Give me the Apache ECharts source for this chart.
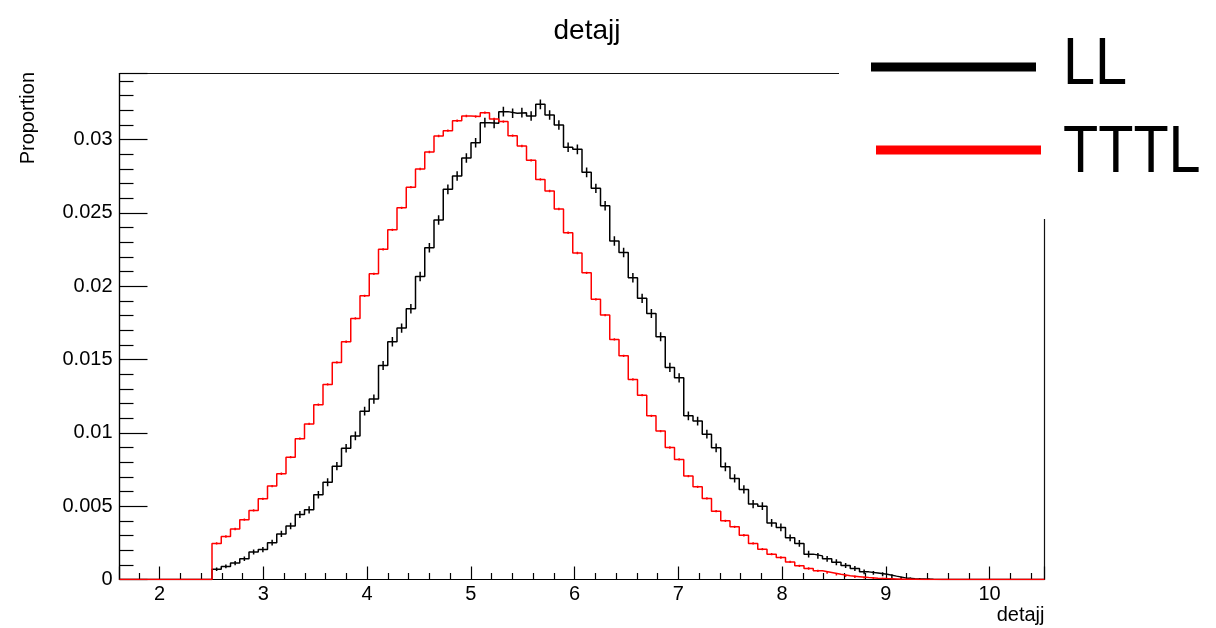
<!DOCTYPE html>
<html><head><meta charset="utf-8">
<script src="https://cdn.jsdelivr.net/npm/echarts@6/dist/echarts.min.js"></script>
<style>html,body{margin:0;padding:0;background:#fff}#c{width:1216px;height:628px}</style>
</head><body><div id="c"></div>
<script>
// ---- data ----
const TITLE = 'detajj';
const X_NAME = 'detajj';
const Y_NAME = 'Proportion';
const SERIES_NAMES = ['LL', 'TTTL'];
const X_MIN = 1.613, X_MAX = 10.53, N_BINS = 100;
const Y_MIN = 0, Y_MAX = 0.0345, Y_STEP = 0.005;

const LL = [
  0,0,0,0,0,0,0,0,0,0,
  0.00070,0.00089,0.00112,0.00141,0.00187,0.00204,0.00251,0.00311,0.00365,0.00443,
  0.00475,0.00578,0.00663,0.00773,0.00895,0.00979,0.01148,0.01230,0.01459,0.01621,
  0.01714,0.01846,0.02066,0.02262,0.02451,0.02660,0.02751,0.02874,0.02978,0.03115,
  0.03110,0.03190,0.03179,0.03183,0.03160,0.03240,0.03167,0.03099,0.02947,0.02933,
  0.02776,0.02667,0.02548,0.02308,0.02230,0.02057,0.01917,0.01814,0.01655,0.01446,
  0.01375,0.01116,0.01080,0.00991,0.00898,0.00768,0.00689,0.00614,0.00514,0.00500,
  0.00386,0.00355,0.00284,0.00246,0.00173,0.00161,0.00141,0.00118,0.00095,0.00075,
  0.00052,0.00045,0.00036,0.00023,0.00011,0.00005,0.00003,0.00001,0,0,
  0,0,0,0,0,0,0,0,0,0
];
const TTTL = [
  0,0,0,0,0,0,0,0,0,0,
  0.00246,0.00293,0.00344,0.00408,0.00471,0.00550,0.00637,0.00721,0.00834,0.00960,
  0.01061,0.01192,0.01330,0.01480,0.01621,0.01780,0.01934,0.02084,0.02251,0.02384,
  0.02534,0.02675,0.02799,0.02915,0.03024,0.03060,0.03128,0.03160,0.03156,0.03183,
  0.03140,0.03122,0.03026,0.02956,0.02858,0.02728,0.02649,0.02526,0.02364,0.02226,
  0.02091,0.01910,0.01803,0.01637,0.01525,0.01364,0.01257,0.01116,0.01012,0.00900,
  0.00819,0.00705,0.00632,0.00553,0.00466,0.00400,0.00359,0.00302,0.00246,0.00207,
  0.00173,0.00150,0.00120,0.00093,0.00075,0.00059,0.00048,0.00036,0.00025,0.00019,
  0.00013,0.00009,0.00006,0.00004,0.00002,0.00001,0,0,0,0,
  0,0,0,0,0,0,0,0,0,0
];
// statistical error bars, in units of 1e-4
const LL_ERR_E4 = [
  0,0,0,0,0,0,0,0,0,0,
  1.2,1.3,1.4,1.5,1.7,1.8,2.0,2.1,2.2,2.4,
  2.5,2.6,2.7,2.8,2.9,3.0,3.0,3.1,3.1,3.2,
  3.2,3.3,3.3,3.3,3.3,3.3,3.3,3.3,3.3,3.3,
  3.3,3.3,3.3,3.3,3.3,3.3,3.3,3.3,3.3,3.3,
  3.3,3.2,3.2,3.2,3.2,3.2,3.1,3.1,3.1,3.1,
  3.1,3.0,3.0,3.0,3.0,3.0,2.8,2.8,2.8,2.6,
  2.6,2.6,2.3,2.3,2.3,2.0,2.0,2.0,1.7,1.7,
  1.7,1.3,1.3,1.3,0.8,0.8,0.8,0.5,0,0,
  0,0,0,0,0,0,0,0,0,0
];
const TTTL_ERR_E4 = [
  0,0,0,0,0,0,0,0,0,0,
  0.8,0.8,0.8,0.8,0.8,0.8,0.8,0.8,0.8,0.8,
  0.8,0.8,0.8,0.8,0.8,0.8,0.8,0.8,0.8,0.8,
  0.8,0.8,0.8,0.8,0.8,0.8,0.8,0.8,0.8,0.8,
  0.8,0.8,0.8,0.8,0.8,0.8,0.8,0.8,0.8,0.8,
  0.8,0.8,0.8,0.8,0.8,0.8,0.8,0.8,0.8,0.8,
  0.8,0.8,0.8,0.8,0.8,0.8,0.8,0.8,0.8,0.8,
  0.8,0.8,0.8,0.8,0.8,0.8,0.8,0.8,0.8,0.8,
  0.6,0.6,0.6,0.6,0.6,0.6,0,0,0,0,
  0,0,0,0,0,0,0,0,0,0
];
const COLORS = ['#000000', '#ff0000'];

// ---- build ----
const BW = (X_MAX - X_MIN) / N_BINS;
function stepData(vals) {
  const d = [];
  for (let i = 0; i < vals.length; i++) d.push([X_MIN + i * BW, vals[i]]);
  d.push([X_MIN + vals.length * BW, vals[vals.length - 1]]);
  return d;
}
function errData(vals, errs) {
  const d = [];
  for (let i = 0; i < vals.length; i++) if (vals[i] > 0) d.push([X_MIN + (i + 0.5) * BW, vals[i], errs[i] * 1e-4]);
  return d;
}
function errSeries(vals, errs, color, z) {
  return {
    type: 'custom', z: z, silent: true, clip: true,
    encode: { x: 0, y: 1 },
    data: errData(vals, errs),
    renderItem: function (params, api) {
      const x = api.value(0), v = api.value(1), e = api.value(2);
      const p1 = api.coord([x, v - e]), p2 = api.coord([x, v + e]);
      return { type: 'line', shape: { x1: p1[0], y1: p1[1], x2: p2[0], y2: p2[1] },
               style: { stroke: color, lineWidth: 1.5 } };
    }
  };
}
const FONT = "'Liberation Sans', Arial, Helvetica, sans-serif";
const chart = echarts.init(document.getElementById('c'), null, { renderer: 'canvas' });
chart.setOption({
  animation: false,
  backgroundColor: '#ffffff',
  title: {
    text: TITLE, left: 582, top: 12, textAlign: 'center',
    textStyle: { fontSize: 28, fontWeight: 'normal', color: '#000', fontFamily: FONT }
  },
  grid: { left: 119.5, right: 171.5, top: 73.5, bottom: 48.5, show: true, borderColor: '#111', borderWidth: 1.2, backgroundColor: 'transparent' },
  xAxis: {
    type: 'value', min: X_MIN, max: X_MAX, splitNumber: 9,
    name: X_NAME, nameLocation: 'end', nameGap: 0,
    nameTextStyle: { fontSize: 20, color: '#000', fontFamily: FONT, align: 'right', verticalAlign: 'top', padding: [26, 0, 0, 0] },
    axisLine: { lineStyle: { color: '#000', width: 1.2 } },
    axisTick: { inside: true, length: 13, lineStyle: { color: '#000', width: 1.2 } },
    minorTick: { show: true, splitNumber: 5, length: 6.5, lineStyle: { color: '#000', width: 1.2 } },
    axisLabel: { fontSize: 20, color: '#000', fontFamily: FONT, margin: 5, showMinLabel: false, showMaxLabel: false,
      formatter: function (v) { return Math.abs(v - Math.round(v)) < 1e-6 ? String(Math.round(v)) : ''; } },
    splitLine: { show: false }, minorSplitLine: { show: false }
  },
  yAxis: {
    type: 'value', min: Y_MIN, max: Y_MAX, interval: Y_STEP,
    axisLine: { show: true, lineStyle: { color: '#000', width: 1.2 } },
    axisTick: { show: true, inside: true, length: 28, lineStyle: { color: '#000', width: 1.2 } },
    minorTick: { show: true, splitNumber: 5, length: 14, lineStyle: { color: '#000', width: 1.2 } },
    axisLabel: { fontSize: 20, color: '#000', fontFamily: FONT, margin: 7, showMaxLabel: false },
    splitLine: { show: false }
  },
  series: [
    { name: SERIES_NAMES[0], type: 'line', step: 'end', symbol: 'none', z: 3,
      data: stepData(LL), lineStyle: { color: COLORS[0], width: 1.5 } },
    errSeries(LL, LL_ERR_E4, COLORS[0], 4),
    { name: SERIES_NAMES[1], type: 'line', step: 'end', symbol: 'none', z: 5,
      data: stepData(TTTL), lineStyle: { color: COLORS[1], width: 1.5 } },
    errSeries(TTTL, TTTL_ERR_E4, COLORS[1], 6)
  ],
  graphic: [
    { type: 'rect', z: 100, shape: { x: 839, y: 0, width: 377, height: 219 }, style: { fill: '#fff' } },
    { type: 'rect', z: 101, shape: { x: 871, y: 62.5, width: 165, height: 9 }, style: { fill: COLORS[0] } },
    { type: 'rect', z: 101, shape: { x: 876, y: 145.5, width: 165, height: 9 }, style: { fill: COLORS[1] } },
    { type: 'text', z: 101, x: 1063, y: 66, scaleX: 0.86,
      style: { text: SERIES_NAMES[0], fontSize: 67, fontFamily: FONT, fill: '#000', align: 'left', verticalAlign: 'middle' } },
    { type: 'text', z: 101, x: 1063, y: 154, scaleX: 0.86,
      style: { text: SERIES_NAMES[1], fontSize: 67, fontFamily: FONT, fill: '#000', align: 'left', verticalAlign: 'middle' } },
    { type: 'text', z: 101, x: 28, y: 72, rotation: Math.PI / 2,
      style: { text: Y_NAME, fontSize: 20, fontFamily: FONT, fill: '#000', align: 'right', verticalAlign: 'middle' } }
  ]
});
</script></body></html>
